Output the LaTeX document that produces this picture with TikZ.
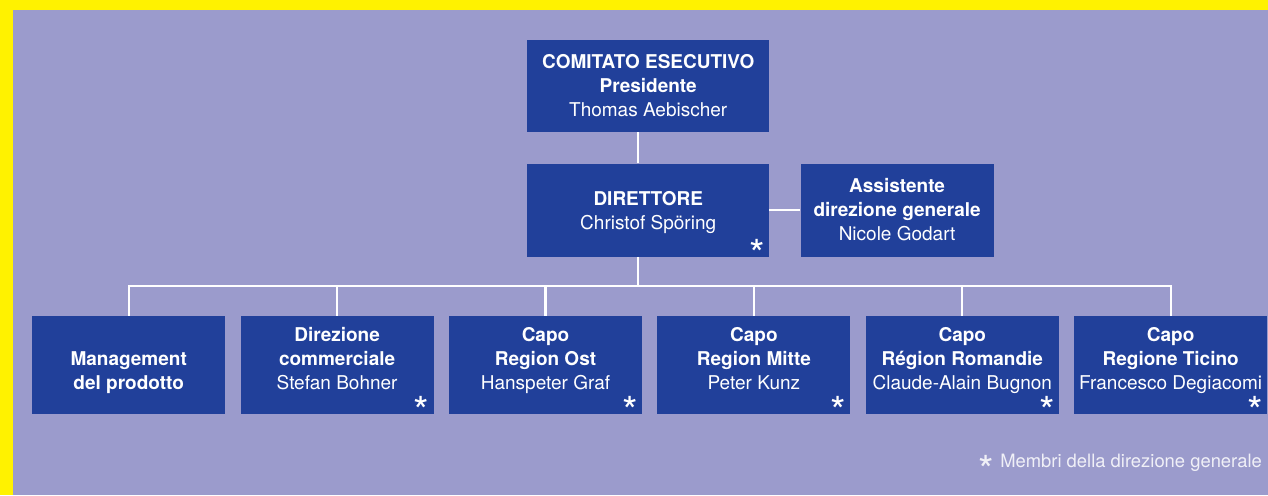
\documentclass[tikz,border=0pt]{standalone}
\usepackage{fontspec}
\setmainfont{TeX Gyre Heros}
\definecolor{lav}{HTML}{9B9BCC}
\definecolor{boxblue}{HTML}{21409A}
\definecolor{frame}{HTML}{FFF200}
\newcommand{\starfont}{\fontsize{40}{40}\selectfont}
\begin{document}
\begin{tikzpicture}[x={(1pt,0)}, y={(0,-1pt)},
  box/.style={rectangle, fill=boxblue, inner sep=0pt},
  lowbox/.style={box, minimum width=193pt, minimum height=98pt},
  txt/.style={align=center, text=white, inner sep=0pt, font=\fontsize{19}{24}\selectfont,
    execute at begin node=\strut, execute at end node=\strut},
  starnote/.style={anchor=base east, text=white, inner sep=0pt, font=\starfont},
  link/.style={white, line width=2.2pt}]

\useasboundingbox (0,0) rectangle (1268,495);
\fill [frame] (0,0) rectangle (1268,495);
\fill [lav] (13,10) rectangle (1268,495);

% top of the chart
\draw (527,40) node (com) [anchor=north west, box, minimum width=242pt, minimum height=92pt] {};
\draw (com) ++(0,2.9) node (comt) [txt] {\textbf{COMITATO ESECUTIVO}\\\textbf{Presidente}\\Thomas Aebischer};

\draw (com.south) ++(0,31) node (dir) [below, box, minimum width=242pt, minimum height=93pt] {};
\draw (dir) ++(0,3.85) node (dirt) [txt] {\textbf{DIRETTORE}\\Christof Spöring};
\draw ([xshift=-4.2pt, yshift=-12pt]dir.south east) node (dirs) [starnote] {*};

\draw ([xshift=31pt]dir.east) node (ass) [right, box, minimum width=193pt, minimum height=93pt] {};
\draw (ass) ++(0,3.2) node (asst) [txt] {\textbf{Assistente}\\\textbf{direzione generale}\\Nicole Godart};

\path ([xshift=-10pt]dir.south) coordinate (spine);
\draw [link] (com.south -| spine) -- (dir.north -| spine);
\draw [link] (dir.east) -- (ass.west);

% bottom row
\draw (32,316) node (m1) [anchor=north west, lowbox] {};
\draw (m1) ++(0,9.2) node (m1t) [txt] {\textbf{Management}\\\textbf{del prodotto}};

\draw ([xshift=15pt]m1.east) node (m2) [right, lowbox] {};
\draw (m2) ++(0,-2.8) node (m2t) [txt] {\textbf{Direzione}\\\textbf{commerciale}\\Stefan Bohner};
\draw ([xshift=-4.2pt, yshift=-11pt]m2.south east) node (m2s) [starnote] {*};

\draw ([xshift=15pt]m2.east) node (m3) [right, lowbox] {};
\draw (m3) ++(0,-2.8) node (m3t) [txt] {\textbf{Capo}\\\textbf{Region Ost}\\Hanspeter Graf};
\draw ([xshift=-4.2pt, yshift=-11pt]m3.south east) node (m3s) [starnote] {*};

\draw ([xshift=15pt]m3.east) node (m4) [right, lowbox] {};
\draw (m4) ++(0,-2.8) node (m4t) [txt] {\textbf{Capo}\\\textbf{Region Mitte}\\Peter Kunz};
\draw ([xshift=-4.2pt, yshift=-11pt]m4.south east) node (m4s) [starnote] {*};

\draw ([xshift=15pt]m4.east) node (m5) [right, lowbox] {};
\draw (m5) ++(0,-2.8) node (m5t) [txt] {\textbf{Capo}\\\textbf{Région Romandie}\\Claude-Alain Bugnon};
\draw ([xshift=-4.2pt, yshift=-11pt]m5.south east) node (m5s) [starnote] {*};

\draw ([xshift=15pt]m5.east) node (m6) [right, lowbox] {};
\draw (m6) ++(0,-2.8) node (m6t) [txt] {\textbf{Capo}\\\textbf{Regione Ticino}\\Francesco Degiacomi};
\draw ([xshift=-4.2pt, yshift=-11pt]m6.south east) node (m6s) [starnote] {*};

% the bus
\path (spine) ++(0,29) coordinate (bus);
\draw [link] (spine) -- (bus);
\draw [link, line cap=rect] (m1.north |- bus) -- (m6.north |- bus);
\draw [link] (m1.north |- bus) -- (m1.north);
\draw [link] (m2.north |- bus) -- (m2.north);
\draw [link] (m3.north |- bus) -- (m3.north);
\draw [link] (m4.north |- bus) -- (m4.north);
\draw [link] (m5.north |- bus) -- (m5.north);
\draw [link] (m6.north |- bus) -- (m6.north);

\draw (1262,467) node (note) [anchor=base east, inner sep=0pt, text=white!85!lav, font=\fontsize{18.4}{22}\selectfont]
  {\raisebox{-17.7pt}{\starfont *}\hspace{6.2pt}Membri della direzione generale};

\end{tikzpicture}
\end{document}
